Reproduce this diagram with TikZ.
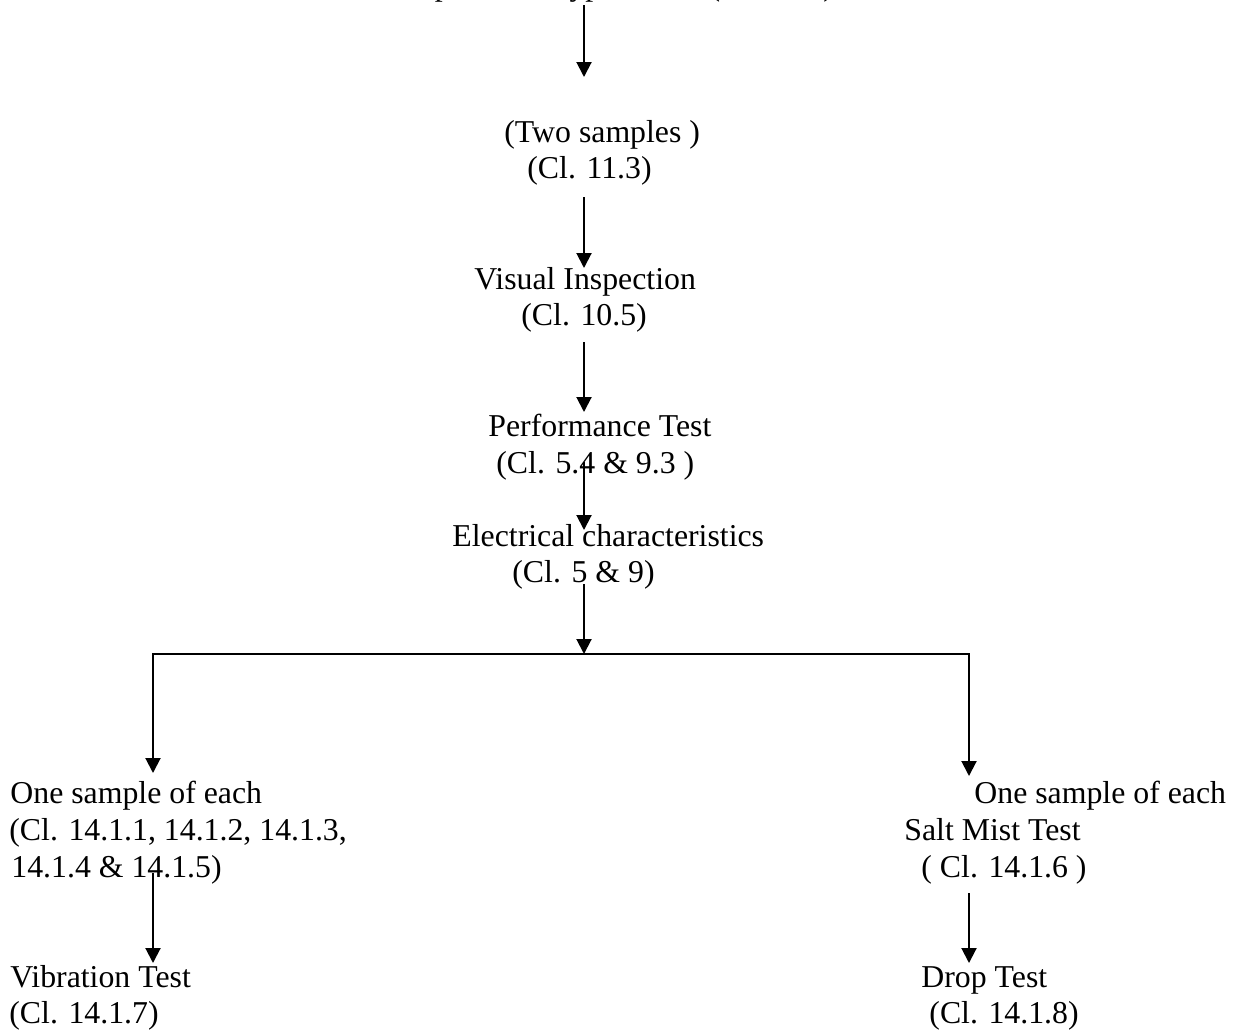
\documentclass[tikz,border=0pt]{standalone}
\usepackage{fontspec}
\setmainfont{Liberation Serif}
\usetikzlibrary{arrows.meta}
\tikzset{
  txt/.style={anchor=base west, inner sep=0pt, font=\fontsize{15.9}{18}\selectfont},
  arr/.style={line width=1pt, -{Triangle[width=7.5pt,length=7.5pt]}},
  twoarr/.style={line width=1pt, {Triangle[width=7.5pt,length=7.5pt]}-{Triangle[width=7.5pt,length=7.5pt]}},
}
\begin{document}
\begin{tikzpicture}[x=0.5pt,y=-0.5pt]
\useasboundingbox (0,0) rectangle (1241,1033);
% texts
\node[txt] (top) at (378,-4) {Samples\hspace{.59em}for\hspace{.59em}type\hspace{.59em}tests\hspace{.59em}(Cl. 11.1)};
\node[txt] (n2a) at (504,142) {(Two samples )};
\node[txt] (n2b) at (527,178) {(Cl. 11.3)};
\node[txt] (n3a) at (474,289) {Visual Inspection};
\node[txt] (n3b) at (521,325) {(Cl. 10.5)};
\node[txt] (n4a) at (488,436) {Performance Test};
\node[txt] (n4b) at (496,473) {(Cl. 5.4 \& 9.3 )};
\node[txt] (n5a) at (452,546) {Electrical characteristics};
\node[txt] (n5b) at (512,582) {(Cl. 5 \& 9)};
\node[txt] (l1) at (10,803) {One sample of each};
\node[txt] (l2) at (9,840) {(Cl. 14.1.1, 14.1.2, 14.1.3,};
\node[txt] (l3) at (11,877) {14.1.4 \& 14.1.5)};
\node[txt] (l4) at (10,987) {Vibration Test};
\node[txt] (l5) at (9,1023) {(Cl. 14.1.7)};
\node[txt] (r1) at (974,803) {One sample of each};
\node[txt] (r2) at (904,840) {Salt Mist Test};
\node[txt] (r3) at (921,877) {( Cl. 14.1.6 )};
\node[txt] (r4) at (921,987) {Drop Test};
\node[txt] (r5) at (929,1023) {(Cl. 14.1.8)};
% connector end points
\coordinate (a1s) at (584,5);   \coordinate (a1e) at (584,77);
\coordinate (a2s) at (584,197); \coordinate (a2e) at (584,268);
\coordinate (a3s) at (584,342); \coordinate (a3e) at (584,412);
\coordinate (a4s) at (584,462); \coordinate (a4e) at (584,530);
\coordinate (a5s) at (584,584); \coordinate (a5e) at (584,654);
\coordinate (hl) at (153,654);  \coordinate (hr) at (969,654);
\coordinate (ltip) at (153,773); \coordinate (rtip) at (969,776);
\coordinate (a6s) at (153,873); \coordinate (a6e) at (153,963);
\coordinate (a7s) at (969,893); \coordinate (a7e) at (969,963);
% connectors
\draw[arr] (a1s) -- (a1e);
\draw[arr] (a2s) -- (a2e);
\draw[arr] (a3s) -- (a3e);
\draw[arr] (a4s) -- (a4e);
\draw[arr] (a5s) -- (a5e);
\draw[twoarr] (ltip) -- (hl) -- (hr) -- (rtip);
\draw[arr] (a6s) -- (a6e);
\draw[arr] (a7s) -- (a7e);
\end{tikzpicture}
\end{document}
